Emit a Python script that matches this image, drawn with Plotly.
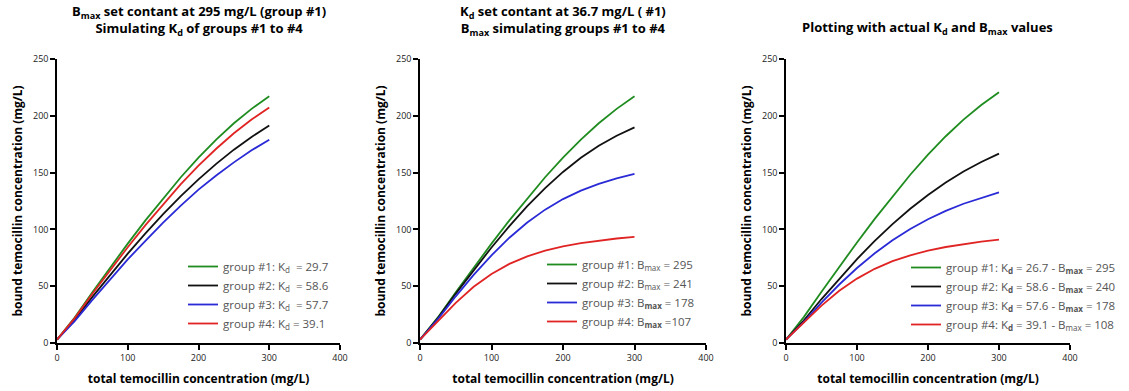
import plotly.graph_objects as go

# total concentration sample points (mg/L)
total_conc = [0, 25, 50, 75, 100, 125, 150, 175, 200, 225, 250, 275, 300]

# Panel 1: Bmax constant, Kd varied
p1_g1 = [3, 22.5, 44.7, 66.4, 87.5, 107.9, 127.4, 145.9, 163.2, 179.1, 193.4, 206.1, 217.2]
p1_g2 = [3, 20.6, 40.6, 60.0, 78.7, 96.5, 113.4, 129.3, 144.1, 157.7, 170.2, 181.4, 191.5]
p1_g3 = [3, 19.3, 38.0, 56.0, 73.6, 90.0, 106.0, 121.0, 135.0, 147.5, 159.0, 169.6, 179.0]
p1_g4 = [3, 21.9, 43.3, 64.1, 84.3, 103.8, 122.3, 139.8, 156.1, 171.0, 184.6, 196.7, 207.4]

# Panel 2: Kd constant, Bmax varied
p2_g1 = [3, 22.5, 44.7, 66.4, 87.5, 107.9, 127.4, 145.9, 163.2, 179.1, 193.4, 206.1, 217.2]
p2_g2 = [3, 22.0, 43.5, 64.2, 84.1, 102.9, 120.4, 136.3, 150.6, 163.0, 173.6, 182.5, 189.8]
p2_g3 = [3, 21.0, 41.1, 59.9, 77.2, 92.7, 106.1, 117.4, 126.7, 134.1, 140.1, 144.9, 148.8]
p2_g4 = [3, 18.7, 35.3, 49.5, 60.8, 69.6, 76.3, 81.3, 85.0, 88.0, 90.2, 92.0, 93.5]

# Panel 3: actual Kd and Bmax
p3_g1 = [3, 22.8, 45.2, 67.1, 88.5, 109.3, 129.2, 148.1, 165.8, 182.0, 196.6, 209.5, 220.7]
p3_g2 = [3, 19.8, 38.7, 56.8, 73.9, 89.9, 104.7, 118.2, 130.3, 141.2, 150.9, 159.3, 166.7]
p3_g3 = [3, 18.4, 35.6, 51.5, 66.0, 79.0, 90.5, 100.4, 109.0, 116.3, 122.6, 127.9, 132.5]
p3_g4 = [3, 17.5, 32.9, 46.0, 56.7, 65.3, 72.0, 77.2, 81.3, 84.5, 87.1, 89.2, 91.0]

names1 = ["group #1: K<sub>d</sub>  = 29.7", "group #2: K<sub>d</sub>  = 58.6",
          "group #3: K<sub>d</sub>  = 57.7", "group #4: K<sub>d</sub> = 39.1"]
names2 = ["group #1: B<sub>max</sub> = 295", "group #2: B<sub>max</sub> = 241",
          "group #3: B<sub><b>max</b></sub> = 178", "group #4: B<sub><b>max</b></sub> =107"]
names3 = ["group #1: K<sub><b>d</b></sub> = 26.7 - B<sub><b>max</b></sub> = 295",
          "group #2: K<sub><b>d</b></sub> = 58.6 - B<sub><b>max</b></sub> = 240",
          "group #3: K<sub><b>d</b></sub> = 57.6 - B<sub><b>max</b></sub> = 178",
          "group #4: K<sub><b>d</b></sub> = 39.1 - B<sub>max</sub> = 108"]

colors = ["#1f8c1f", "#111111", "#2a2ad6", "#e02424"]

W, H = 1129, 391
fig = go.Figure()

panels = [
    ([p1_g1, p1_g2, p1_g3, p1_g4], names1, "x", "y", "legend"),
    ([p2_g1, p2_g2, p2_g3, p2_g4], names2, "x2", "y2", "legend2"),
    ([p3_g1, p3_g2, p3_g3, p3_g4], names3, "x3", "y3", "legend3"),
]
for series, names, xa, ya, lg in panels:
    for s, n, c in zip(series, names, colors):
        fig.add_trace(go.Scatter(x=total_conc, y=s, mode="lines", name=n,
                                 line=dict(color=c, width=1.8),
                                 xaxis=xa, yaxis=ya, legend=lg))

xdoms = [(57 / W, 340 / W), (420 / W, 706 / W), (786 / W, 1070 / W)]
ydom = ((391 - 343) / H, (391 - 59) / H)

font_family = "Open Sans"
axis_common = dict(showline=True, linecolor="black", linewidth=1.5, ticks="outside",
                   ticklen=5, tickwidth=1.5, tickcolor="black", showgrid=False,
                   zeroline=False, automargin=False, tickfont=dict(size=9, color="#222"))

layout = dict(width=W, height=H, margin=dict(l=0, r=0, t=0, b=0, autoexpand=False),
              plot_bgcolor="white", paper_bgcolor="white",
              font=dict(family=font_family, color="black"))

for i, (x0, x1) in enumerate(xdoms):
    suf = "" if i == 0 else str(i + 1)
    layout["xaxis" + suf] = dict(domain=[x0, x1], range=[0, 400], tickvals=[0, 100, 200, 300, 400],
                                 anchor="y" + suf,
                                 title=dict(text="<b>total temocillin concentration (mg/L)</b>",
                                            font=dict(size=12), standoff=12),
                                 **axis_common)
    layout["yaxis" + suf] = dict(domain=list(ydom), range=[0, 250], tickvals=[0, 50, 100, 150, 200, 250],
                                 anchor="x" + suf,
                                 title=dict(text="<b>bound temocillin concentration (mg/L)</b>",
                                            font=dict(size=12), standoff=8),
                                 **axis_common)

leg_common = dict(bgcolor="rgba(0,0,0,0)", borderwidth=0, font=dict(size=11.5, color="#555"),
                  xanchor="left", yanchor="top", itemwidth=30, tracegroupgap=0)
layout["legend"] = dict(x=183 / W, y=1 - 252 / H, **leg_common)
layout["legend2"] = dict(x=542 / W, y=1 - 250 / H, **leg_common)
layout["legend3"] = dict(x=906 / W, y=1 - 253 / H, **leg_common)

fig.update_layout(**layout)

titles = [
    ((57 + 340) / 2, "<b>B<sub>max</sub> set contant at 295 mg/L (group #1)<br>Simulating K<sub>d</sub> of groups #1 to #4</b>"),
    ((420 + 706) / 2, "<b>K<sub>d</sub> set contant at 36.7 mg/L ( #1)<br>B<sub>max</sub> simulating groups #1 to #4</b>"),
    ((786 + 1070) / 2, "<b>Plotting with actual K<sub>d</sub> and B<sub>max</sub> values</b>"),
]
for i, (cx, t) in enumerate(titles):
    fig.add_annotation(x=cx / W, y=1 - (0 if i < 2 else 16) / H, xref="paper", yref="paper",
                       text=t, showarrow=False, xanchor="center", yanchor="top",
                       font=dict(size=13, color="black"), align="center")

fig.write_html("out.html")
